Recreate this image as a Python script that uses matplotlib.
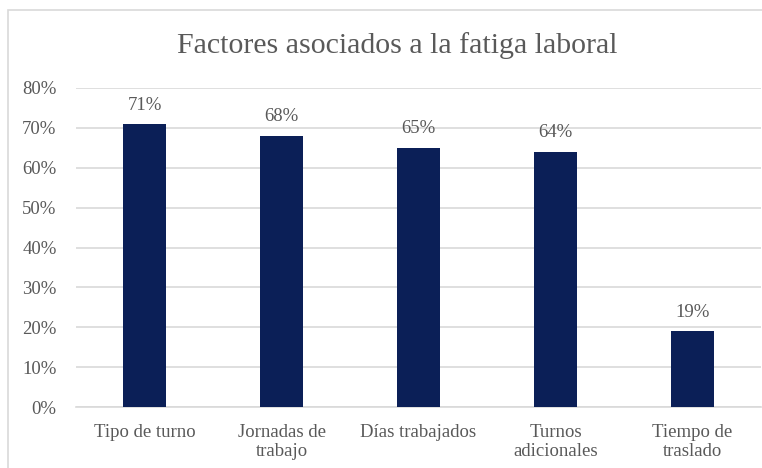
import matplotlib.pyplot as plt
from matplotlib.patches import Rectangle
import numpy as np

categorias = ["Tipo de turno", "Jornadas de\ntrabajo", "Días trabajados", "Turnos\nadicionales", "Tiempo de\ntraslado"]
valores = [71, 68, 65, 64, 19]

plt.rcParams['font.family'] = ['Liberation Serif', 'DejaVu Serif']
gris = "#595959"

fig = plt.figure(figsize=(7.62, 4.68), dpi=100)
fig.patches.append(Rectangle((8 / 762, -0.05), 1.0, 1 - 10 / 468 + 0.05, transform=fig.transFigure,
                             fill=False, edgecolor="#d9d9d9", linewidth=1.2))

ax = fig.add_axes([76 / 762, 61 / 468, 685 / 762, 319 / 468])
x = np.arange(len(categorias))
ax.bar(x, valores, width=0.32, color="#0b1f57", zorder=3)
for xi, v in zip(x, valores):
    ax.text(xi, v + 2.6, f"{v}%", ha="center", va="bottom", fontsize=13.5, color=gris)

ax.set_xlim(-0.5, len(categorias) - 0.5)
ax.set_ylim(0, 80)
ax.set_yticks(range(0, 81, 10))
ax.set_yticklabels([f"{t}%" for t in range(0, 81, 10)], fontsize=13.5, color=gris)
ax.set_xticks(x)
ax.set_xticklabels(categorias, fontsize=13.5, color=gris, linespacing=1.15)
ax.tick_params(length=0, pad=14)
ax.tick_params(axis="x", pad=12)
ax.grid(axis="y", color="#d9d9d9", linewidth=1.2, zorder=0)
for s in ["top", "right", "left"]:
    ax.spines[s].set_visible(False)
ax.spines["bottom"].set_color("#d9d9d9")
ax.spines["bottom"].set_linewidth(1.2)

fig.text(397 / 762, 1 - 46 / 468, "Factores asociados a la fatiga laboral", ha="center", va="center",
         fontsize=21.5, color=gris)

fig.savefig("out.png", dpi=100)
